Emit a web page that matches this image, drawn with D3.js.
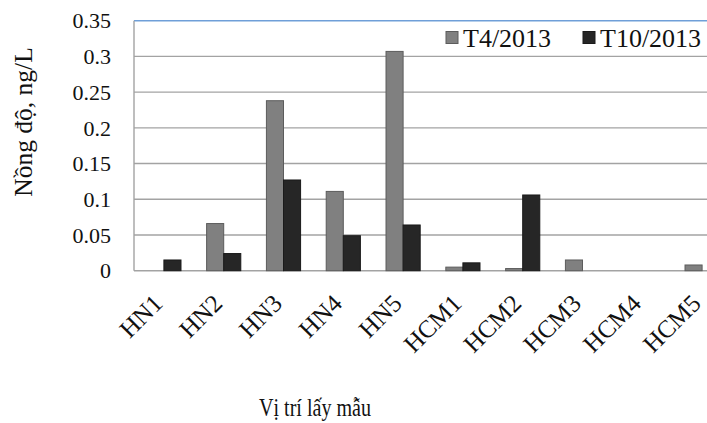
<!DOCTYPE html>
<html>
<head>
<meta charset="utf-8">
<script src="https://cdn.jsdelivr.net/npm/d3@7"></script>
<style>
  body { margin: 0; background: #fff; }
  svg { display: block; font-family: "Liberation Serif", "Times New Roman", serif; }
</style>
</head>
<body>
<svg id="chart"></svg>
<script>
const width = 707;
const height = 423;

// data
const sites = ["HN1", "HN2", "HN3", "HN4", "HN5", "HCM1", "HCM2", "HCM3", "HCM4", "HCM5"];
const seriesNames = ["T4/2013", "T10/2013"];
const t4 = [0, 0.066, 0.238, 0.111, 0.307, 0.005, 0.003, 0.015, 0, 0.008];
const t10 = [0.015, 0.024, 0.127, 0.049, 0.064, 0.011, 0.106, 0, 0, 0];
const yTicks = [0, 0.05, 0.1, 0.15, 0.2, 0.25, 0.3, 0.35];

const colors = ["#808080", "#262626"];
const strokes = ["#5c5c5c", "#1a1a1a"];

// plot area (right side runs past the picture edge, as in the original)
const plotLeft = 134, plotTop = 20.7, plotBottom = 270.7, plotRight = 732;

const svg = d3.select("#chart")
  .attr("width", width)
  .attr("height", height);

const x = d3.scaleBand().domain(sites).range([plotLeft, plotRight]).paddingInner(0).paddingOuter(0);
const y = d3.scaleLinear().domain([0, 0.35]).range([plotBottom, plotTop]);

// bar width: Excel-like gap width of 150%
const barW = x.bandwidth() / 3.5;

// gridlines
svg.append("g")
  .selectAll("line")
  .data(yTicks)
  .join("line")
  .attr("x1", plotLeft)
  .attr("x2", plotRight)
  .attr("y1", d => y(d))
  .attr("y2", d => y(d))
  .attr("stroke", d => d === 0.35 ? "#6f9fd8" : "#a3a3a3")
  .attr("stroke-width", 1.4);

// left axis line
svg.append("line")
  .attr("x1", plotLeft).attr("x2", plotLeft)
  .attr("y1", plotTop).attr("y2", plotBottom)
  .attr("stroke", "#a3a3a3")
  .attr("stroke-width", 1.4);

// y tick labels
svg.append("g")
  .selectAll("text")
  .data(yTicks)
  .join("text")
  .attr("x", 111)
  .attr("y", d => y(d))
  .attr("dy", "0.35em")
  .attr("text-anchor", "end")
  .attr("font-size", 22)
  .attr("fill", "#111")
  .text(d => d3.format("")(d));

// bars
const series = [t4, t10];
series.forEach((vals, si) => {
  svg.append("g")
    .selectAll("rect")
    .data(sites.map((s, i) => ({ site: s, value: vals[i] })).filter(d => d.value > 0))
    .join("rect")
    .attr("x", d => x(d.site) + x.bandwidth() / 2 - barW + si * barW)
    .attr("y", d => y(d.value))
    .attr("width", barW)
    .attr("height", d => plotBottom - y(d.value))
    .attr("fill", colors[si])
    .attr("stroke", strokes[si])
    .attr("stroke-width", 1);
});

// x tick labels, rotated
svg.append("g")
  .selectAll("text")
  .data(sites)
  .join("text")
  .attr("transform", d => `translate(${x(d) + x.bandwidth() / 2 - 6},${plotBottom + 28}) rotate(-45)`)
  .attr("text-anchor", "end")
  .attr("dy", "0.35em")
  .attr("font-size", 25)
  .attr("fill", "#111")
  .text(d => d);

// y axis title
svg.append("text")
  .attr("transform", "translate(32,122) rotate(-90)")
  .attr("text-anchor", "middle")
  .attr("font-size", 25.5)
  .attr("fill", "#111")
  .text("Nồng độ, ng/L");

// x axis title
svg.append("text")
  .attr("x", 259)
  .attr("y", 416)
  .attr("font-size", 25)
  .attr("textLength", 112)
  .attr("lengthAdjust", "spacingAndGlyphs")
  .attr("fill", "#111")
  .text("Vị trí lấy mẫu");

// legend
const legendX = [446, 583];
const legend = svg.append("g");
seriesNames.forEach((name, i) => {
  legend.append("rect")
    .attr("x", legendX[i])
    .attr("y", 31.5)
    .attr("width", 12)
    .attr("height", 12)
    .attr("fill", colors[i])
    .attr("stroke", strokes[i]);
  legend.append("text")
    .attr("x", legendX[i] + 17)
    .attr("y", 37.5)
    .attr("dy", "0.35em")
    .attr("font-size", 26)
    .attr("fill", "#111")
    .text(name);
});
</script>
</body>
</html>
